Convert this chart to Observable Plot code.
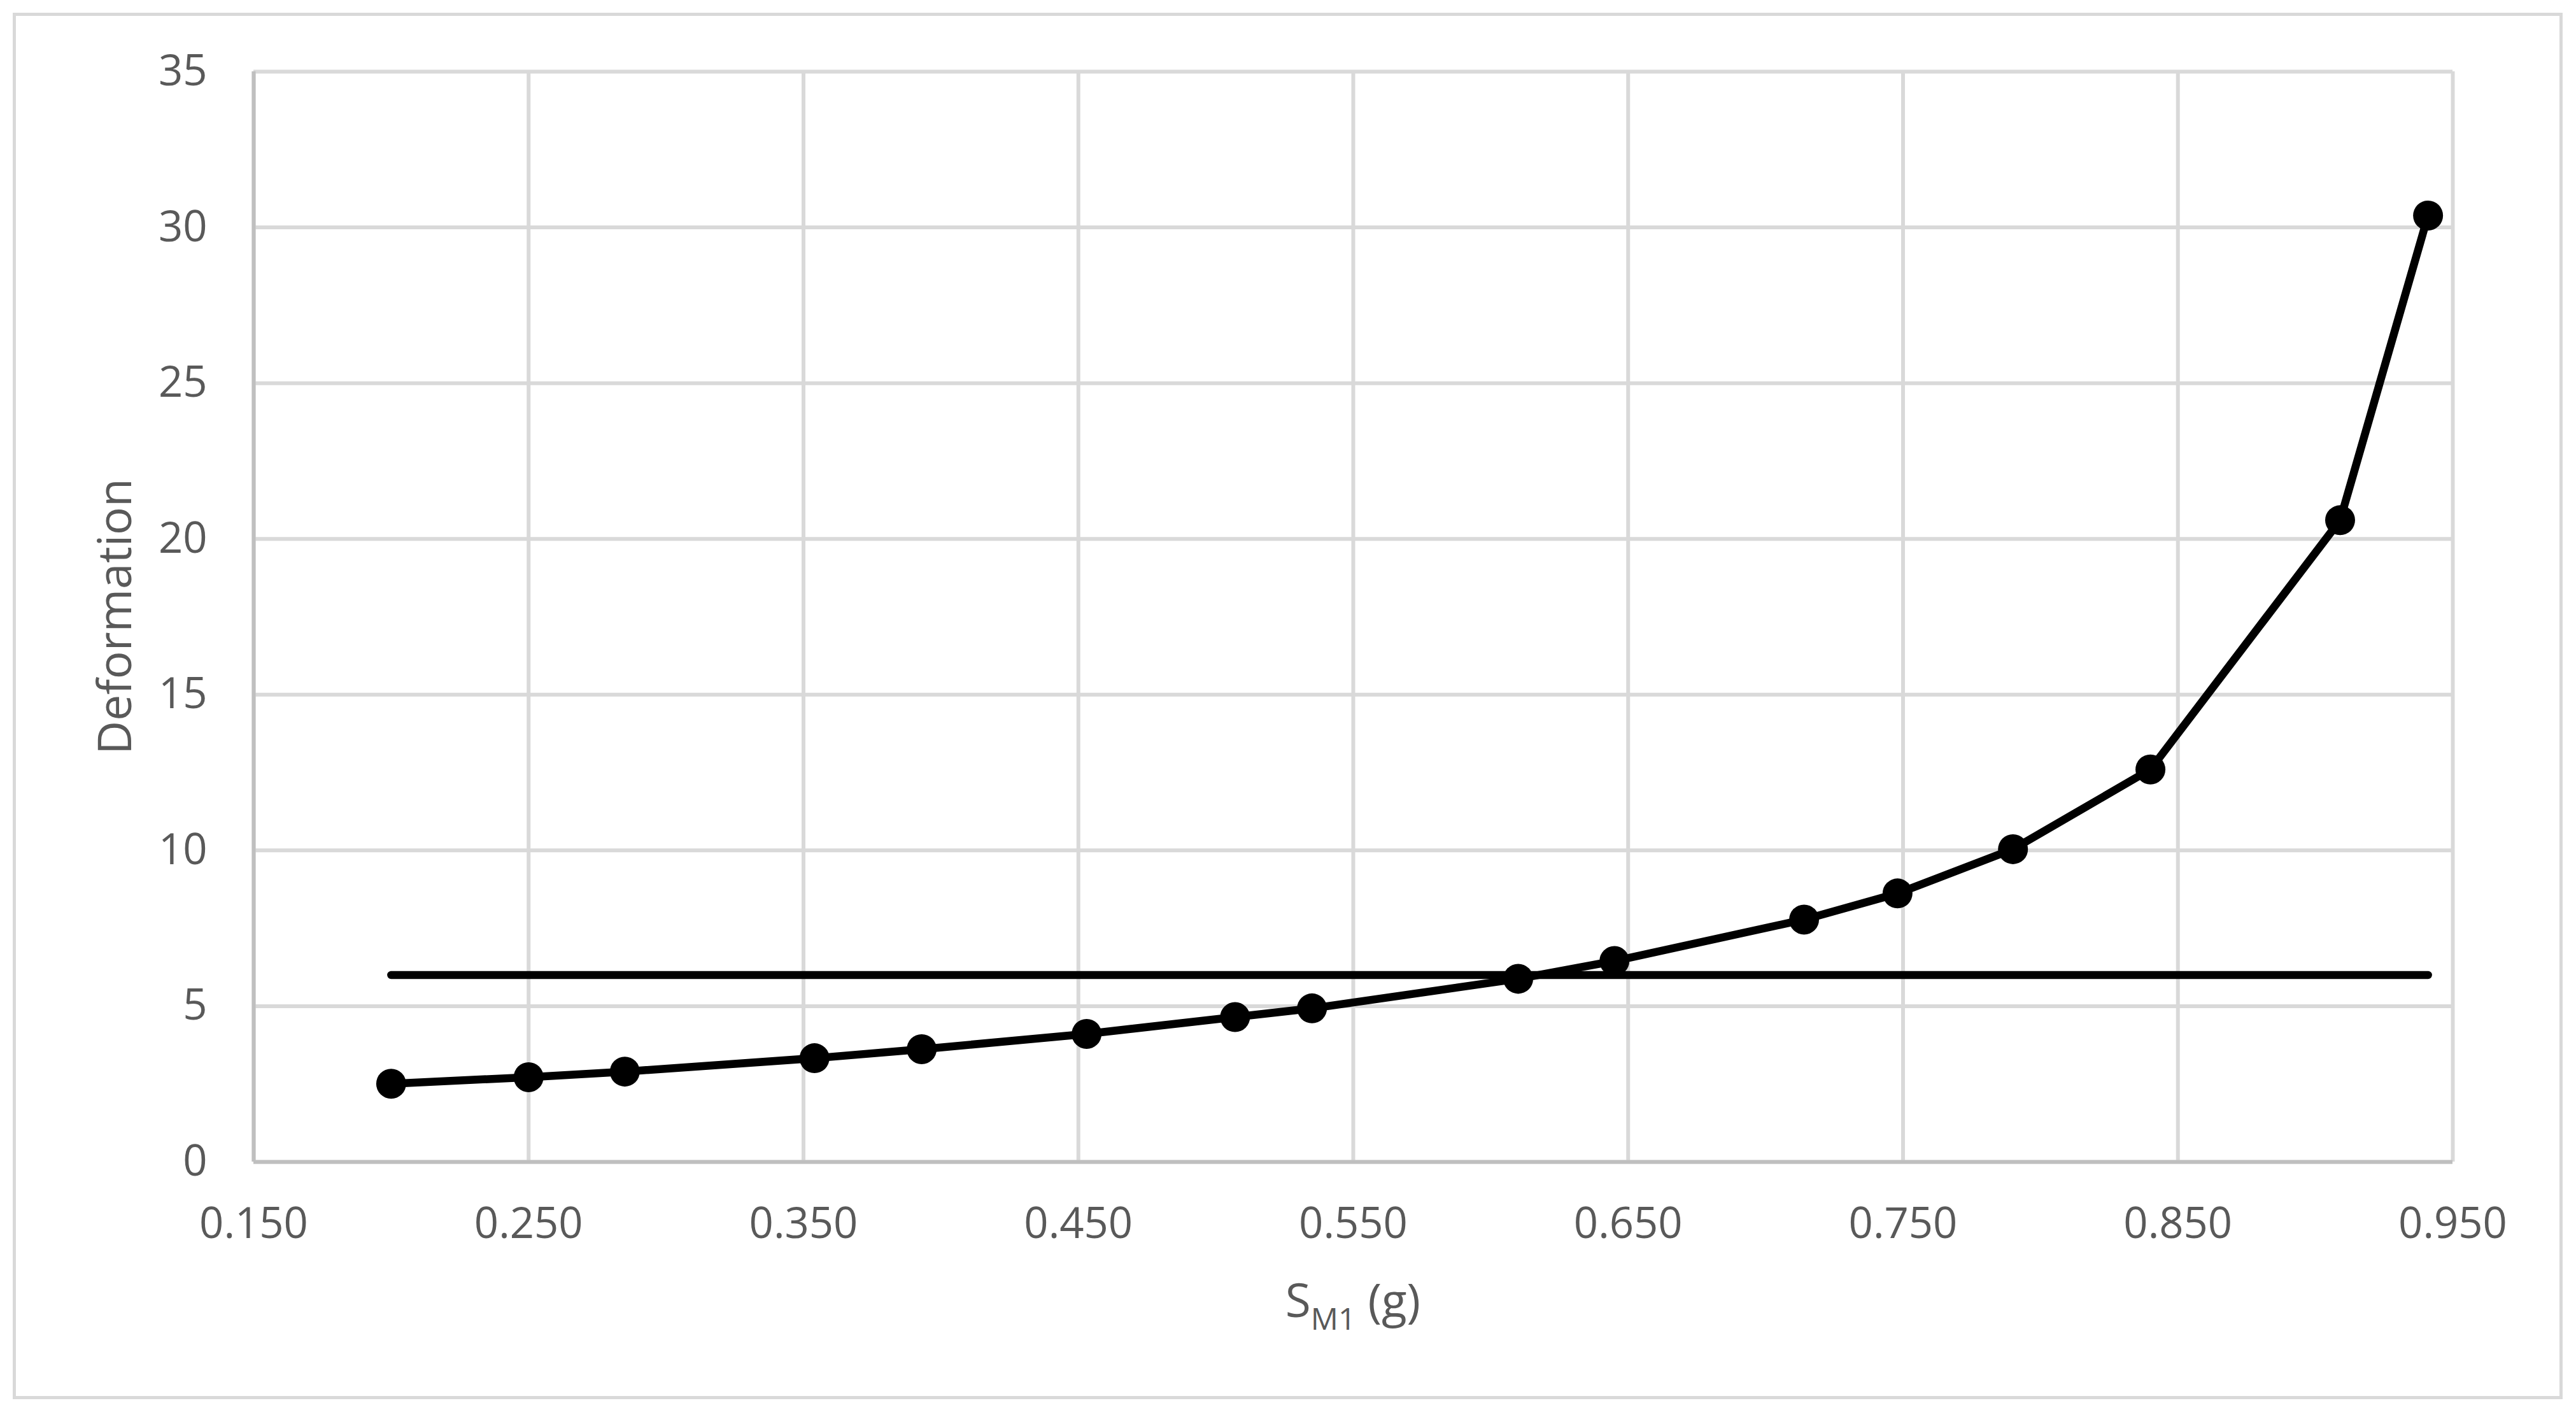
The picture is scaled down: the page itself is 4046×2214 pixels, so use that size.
<!DOCTYPE html>
<html>
<head>
<meta charset="utf-8">
<script src="https://cdn.jsdelivr.net/npm/d3@7"></script>
<script src="https://cdn.jsdelivr.net/npm/@observablehq/plot@0.6"></script>
<style>
  html, body { margin: 0; padding: 0; background: #fff; overflow: hidden; }
  #wrap { position: relative; width: 4046px; height: 2214px; }
  #border { position: absolute; left: 19.5px; top: 19.5px; width: 4005px; height: 2177px;
            border: 5px solid #d9d9d9; box-sizing: border-box; pointer-events: none; }
</style>
</head>
<body>
<div id="wrap"><div id="border"></div></div>
<script>
// Deformation vs S_M1 (g)
const sm1 = [0.200, 0.250, 0.285, 0.354, 0.393, 0.453, 0.507, 0.535, 0.610, 0.645, 0.714, 0.748, 0.790, 0.840, 0.909, 0.941];
const deformation = [2.51, 2.72, 2.90, 3.33, 3.62, 4.11, 4.65, 4.93, 5.88, 6.45, 7.78, 8.62, 10.04, 12.60, 20.60, 30.38];
// Limit line
const limitX = [0.200, 0.941];
const limitY = [6, 6];
// Ticks
const xTicks = [0.15, 0.25, 0.35, 0.45, 0.55, 0.65, 0.75, 0.85, 0.95];
const yTicks = [0, 5, 10, 15, 20, 25, 30, 35];
const yTitle = "Deformation";
const xTitleMain = "S";
const xTitleSub = "M1";
const xTitleRest = " (g)";

const series = sm1.map((x, i) => ({x, y: deformation[i]}));
const limit = limitX.map((x, i) => ({x, y: limitY[i]}));

const grid = {stroke: "#d9d9d9", strokeOpacity: 1, strokeWidth: 6};
const axisLine = {stroke: "#bfbfbf", strokeOpacity: 1, strokeWidth: 6};

const plot = Plot.plot({
  width: 4046,
  height: 2214,
  marginLeft: 398,
  marginRight: 194,
  marginTop: 112,
  marginBottom: 390,
  style: {fontFamily: "'Open Sans', sans-serif", fontSize: "67px", color: "#595959", background: "transparent"},
  x: {domain: [0.15, 0.95]},
  y: {domain: [0, 35]},
  marks: [
    Plot.gridX(xTicks, grid),
    Plot.gridY(yTicks, grid),
    Plot.ruleY([0], axisLine),
    Plot.ruleX([0.15], axisLine),
    Plot.axisX(xTicks, {tickSize: 0, tickPadding: 72, tickFormat: d3.format(".3f"), label: null}),
    Plot.axisY(yTicks, {tickSize: 0, tickPadding: 73, tickFormat: d3.format("d"), label: null}),
    Plot.line(series, {x: "x", y: "y", stroke: "black", strokeWidth: 12.5, strokeLinejoin: "round"}),
    Plot.dot(series, {x: "x", y: "y", r: 23.5, fill: "black", stroke: "none"}),
    Plot.line(limit, {x: "x", y: "y", stroke: "black", strokeWidth: 12.5, strokeLinecap: "round"})
  ]
});

document.getElementById("wrap").insertBefore(plot, document.getElementById("border"));

// Axis titles
const sx = plot.scale("x"), sy = plot.scale("y");
const cx = (sx.range[0] + sx.range[1]) / 2;
const cy = (sy.range[0] + sy.range[1]) / 2;
const svg = d3.select(plot);

svg.append("text")
  .attr("transform", `translate(206,${cy}) rotate(-90)`)
  .attr("text-anchor", "middle")
  .attr("fill", "#595959")
  .attr("font-family", "'Open Sans', sans-serif")
  .attr("font-size", 73)
  .text(yTitle);

const xt = svg.append("text")
  .attr("x", cx)
  .attr("y", 2068)
  .attr("text-anchor", "middle")
  .attr("fill", "#595959")
  .attr("font-family", "'Open Sans', sans-serif")
  .attr("font-size", 73);
xt.append("tspan").text(xTitleMain);
xt.append("tspan").attr("font-size", 48).attr("dy", 20).text(xTitleSub);
xt.append("tspan").attr("dy", -20).text(xTitleRest);
</script>
</body>
</html>
